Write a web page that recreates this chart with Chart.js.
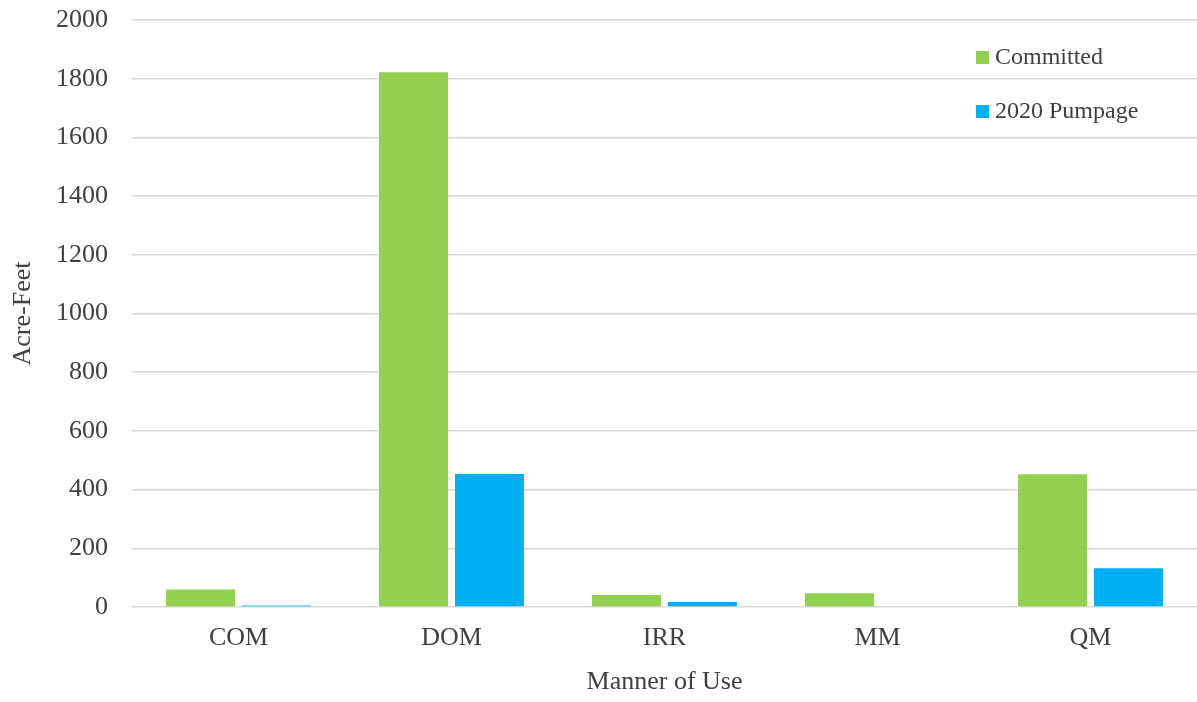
<!DOCTYPE html>
<html>
<head>
<meta charset="utf-8">
<script src="https://cdn.jsdelivr.net/npm/chart.js@4"></script>
<style>
html,body{margin:0;padding:0;background:#fff;}
#wrap{width:1197px;height:702px;position:relative;}
</style>
</head>
<body>
<div id="wrap"><canvas id="c" width="1197" height="702"></canvas></div>
<script>
const categories = ["COM", "DOM", "IRR", "MM", "QM"];
const committed = [60, 1822, 41, 47, 452];
const pumpage2020 = [5, 453, 17, 0, 132];
const yTicks = [0, 200, 400, 600, 800, 1000, 1200, 1400, 1600, 1800, 2000];
const seriesNames = ["Committed", "2020 Pumpage"];
const seriesColors = ["#92d050", "#00b0f0"];

const FONT = "'Liberation Serif', 'Times New Roman', serif";
const FS = 26;

const insideLegend = {
  id: 'insideLegend',
  afterDraw(chart) {
    const ctx = chart.ctx;
    const ds = chart.data.datasets;
    ctx.save();
    ctx.font = "24px " + FONT;
    ctx.textBaseline = 'middle';
    ctx.textAlign = 'left';
    const x0 = 976, y0 = 57, step = 54;
    ds.forEach((d, i) => {
      const y = y0 + i * step;
      ctx.fillStyle = d.backgroundColor;
      ctx.fillRect(x0, y - 6, 13, 13);
      ctx.fillStyle = '#404040';
      ctx.fillText(d.label, x0 + 19, y + 1);
    });
    ctx.restore();
  }
};

new Chart(document.getElementById('c'), {
  type: 'bar',
  data: {
    labels: categories,
    datasets: [
      { label: seriesNames[0], data: committed, backgroundColor: seriesColors[0] },
      { label: seriesNames[1], data: pumpage2020, backgroundColor: seriesColors[1] }
    ]
  },
  options: {
    responsive: false,
    animation: false,
    devicePixelRatio: 1,
    layout: { padding: { top: 20, right: 0, left: 0, bottom: 0 } },
    datasets: { bar: { categoryPercentage: 0.713, barPercentage: 0.908 } },
    plugins: {
      legend: { display: false },
      tooltip: { enabled: false }
    },
    scales: {
      x: {
        grid: { display: false, drawTicks: false },
        border: { display: false },
        ticks: { color: '#404040', font: { family: FONT, size: FS }, padding: 16 },
        title: { display: true, text: 'Manner of Use', color: '#404040', font: { family: FONT, size: FS }, padding: { top: 14 } },
        afterFit(s) { s.height = 95; s.paddingLeft = 0; s.paddingRight = 0; }
      },
      y: {
        min: 0, max: 2000,
        afterBuildTicks(s) { s.ticks = yTicks.map(v => ({ value: v })); },
        grid: { color: '#d9d9d9', lineWidth: 1.6, drawTicks: false },
        border: { display: false },
        ticks: { color: '#404040', font: { family: FONT, size: FS }, padding: 24, callback: v => String(v) },
        title: { display: true, text: 'Acre-Feet', color: '#404040', font: { family: FONT, size: FS }, padding: { top: 8, bottom: 10 } },
        afterFit(s) { s.width = 132; s.paddingTop = 0; s.paddingBottom = 0; }
      }
    }
  },
  plugins: [insideLegend]
});
</script>
</body>
</html>
